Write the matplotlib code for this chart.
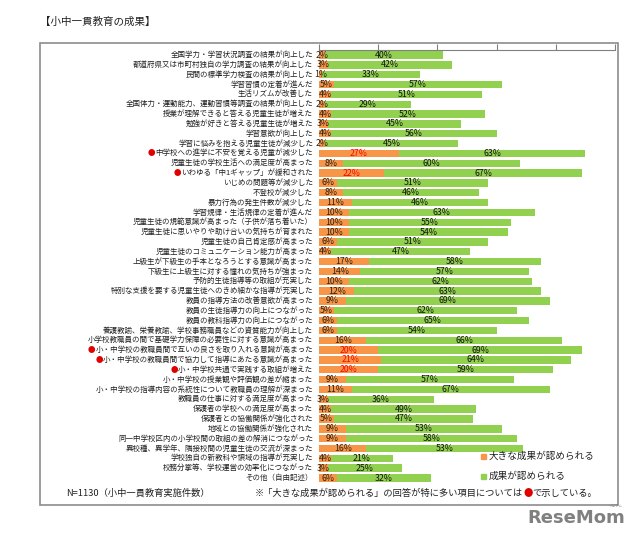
import numpy as np
import matplotlib
matplotlib.use('Agg')
import matplotlib.pyplot as plt
import matplotlib.transforms as mtransforms
from matplotlib.patches import Rectangle

plt.rcParams['font.family'] = ['Noto Sans CJK JP', 'DejaVu Sans']

labels = [
    '全国学力・学習状況調査の結果が向上した',
    '都道府県又は市町村独自の学力調査の結果が向上した',
    '民間の標準学力検査の結果が向上した',
    '学習習慣の定着が進んだ',
    '生活リズムが改善した',
    '全国体力・運動能力、運動習慣等調査の結果が向上した',
    '授業が理解できると答える児童生徒が増えた',
    '勉強が好きと答える児童生徒が増えた',
    '学習意欲が向上した',
    '学習に悩みを抱える児童生徒が減少した',
    '中学校への進学に不安を覚える児童が減少した',
    '児童生徒の学校生活への満足度が高まった',
    'いわゆる「中1ギャップ」が緩和された',
    'いじめの問題等が減少した',
    '不登校が減少した',
    '暴力行為の発生件数が減少した',
    '学習規律・生活規律の定着が進んだ',
    '児童生徒の規範意識が高まった（子供が落ち着いた）',
    '児童生徒に思いやりや助け合いの気持ちが育まれた',
    '児童生徒の自己肯定感が高まった',
    '児童生徒のコミュニケーション能力が高まった',
    '上級生が下級生の手本となろうとする意識が高まった',
    '下級生に上級生に対する憧れの気持ちが強まった',
    '予防的生徒指導等の取組が充実した',
    '特別な支援を要する児童生徒へのきめ細かな指導が充実した',
    '教員の指導方法の改善意欲が高まった',
    '教員の生徒指導力の向上につながった',
    '教員の教科指導力の向上につながった',
    '養護教諭、栄養教諭、学校事務職員などの資質能力が向上した',
    '小学校教職員の間で基礎学力保障の必要性に対する意識が高まった',
    '小・中学校の教職員間で互いの良さを取り入れる意識が高まった',
    '小・中学校の教職員間で協力して指導にあたる意識が高まった',
    '小・中学校共通で実践する取組が増えた',
    '小・中学校の授業観や評価観の差が縮まった',
    '小・中学校の指導内容の系統性について教職員の理解が深まった',
    '教職員の仕事に対する満足度が高まった',
    '保護者の学校への満足度が高まった',
    '保護者との協働関係が強化された',
    '地域との協働関係が強化された',
    '同一中学校区内の小学校間の取組の差の解消につながった',
    '異校種、異学年、隣接校間の児童生徒の交流が深まった',
    '学校独自の新教科や領域の指導が充実した',
    '校務分掌等、学校運営の効率化につながった',
    'その他（自由記述）',
]
big = [2, 3, 1, 5, 4, 2, 4, 3, 4, 2, 27, 8, 22, 6, 8, 11, 10, 10, 10, 6, 4,
       17, 14, 10, 12, 9, 5, 6, 6, 16, 20, 21, 20, 9, 11, 3, 4, 5, 9, 9, 16,
       4, 3, 6]
normal = [40, 42, 33, 57, 51, 29, 52, 45, 56, 45, 63, 60, 67, 51, 46, 46, 63,
          55, 54, 51, 47, 58, 57, 62, 63, 69, 62, 65, 54, 66, 69, 64, 59, 57,
          67, 36, 49, 47, 53, 58, 53, 21, 25, 32]
marked = [10, 12, 30, 31, 32]

orange = '#F79646'
green = '#92D050'

fig = plt.figure(figsize=(6.4, 5.37), dpi=100)
ax = fig.add_axes([0.4984, 0.1007, 0.4625, 0.806])

y = np.arange(len(labels))
ax.barh(y, big, height=0.75, color=orange)
ax.barh(y, normal, left=big, height=0.75, color=green)

ax.set_xlim(0, 100)
ax.set_ylim(len(labels) - 0.5, -0.5)
ax.set_yticks([])
ax.set_xticks([0, 20, 40, 60, 80, 100])
ax.xaxis.tick_top()
ax.tick_params(axis='x', direction='out', length=4, color='#808080', labeltop=False, width=0.8)
for s in ['bottom', 'left', 'right']:
    ax.spines[s].set_visible(False)
ax.spines['top'].set_color('#808080')
ax.spines['top'].set_linewidth(0.8)

trans = mtransforms.blended_transform_factory(ax.transAxes, ax.transData)
for i in range(len(labels)):
    t = ax.text(-0.02, i, labels[i], transform=trans, ha='right', va='center', fontsize=5.4, color='#222222')
    if i in marked:
        ax.annotate('●', xy=(0, 0.5), xycoords=t, ha='right', va='center', fontsize=5.4, color='#E00000')
    c = '#FF0000' if i in marked else '#2a2018'
    ax.text(big[i] / 2, i, '%d%%' % big[i], ha='center', va='center', fontsize=6.3, color=c)
    ax.text(big[i] + normal[i] / 2, i, '%d%%' % normal[i], ha='center', va='center', fontsize=6.3, color='#111111')

fig.text(40 / 640, 1 - 22 / 537, '【小中一貫教育の成果】', ha='left', va='center', fontsize=7.6, color='#222222')

fig.patches.append(Rectangle((40 / 640, 1 - 505 / 537), 578 / 640, 462 / 537, transform=fig.transFigure,
                             fill=False, edgecolor='#8c8c8c', linewidth=1.2))

fig.patches.append(Rectangle((481 / 640, 1 - 459 / 537), 5 / 640, 5 / 537, transform=fig.transFigure,
                             color=orange))
fig.text(489 / 640, 1 - 456.5 / 537, '大きな成果が認められる', ha='left', va='center', fontsize=6.9, color='#222222')
fig.patches.append(Rectangle((481 / 640, 1 - 479 / 537), 5 / 640, 5 / 537, transform=fig.transFigure,
                             color=green))
fig.text(489 / 640, 1 - 476.5 / 537, '成果が認められる', ha='left', va='center', fontsize=6.9, color='#222222')

fig.text(66 / 640, 1 - 493 / 537, 'N=1130（小中一貫教育実施件数）', ha='left', va='center', fontsize=6.7, color='#222222')
n1 = fig.text(255 / 640, 1 - 493 / 537, '※「大きな成果が認められる」の回答が特に多い項目については',
              ha='left', va='center', fontsize=6.7, color='#222222')
n2 = fig.text(0, 0, '●', fontsize=6.7, color='#E00000', ha='left', va='bottom')
n2.set_transform(mtransforms.IdentityTransform())
fig.canvas.draw()
bb = n1.get_window_extent()
n2.set_position((bb.x1, bb.y0))
bb2 = n2.get_window_extent()
fig.text(bb2.x1, bb.y0, 'で示している。', fontsize=6.7, color='#222222', ha='left', va='bottom',
         transform=mtransforms.IdentityTransform())

fig.text(625 / 640, 1 - 523 / 537, 'ReseMom', ha='right', va='baseline', fontsize=13,
         fontweight='bold', color='#808080', family='DejaVu Sans')
fig.text(615 / 640, 1 - 506 / 537, 'リセマム', ha='center', va='center', fontsize=2.5, color='#808080')

plt.savefig('out.png', dpi=100)
